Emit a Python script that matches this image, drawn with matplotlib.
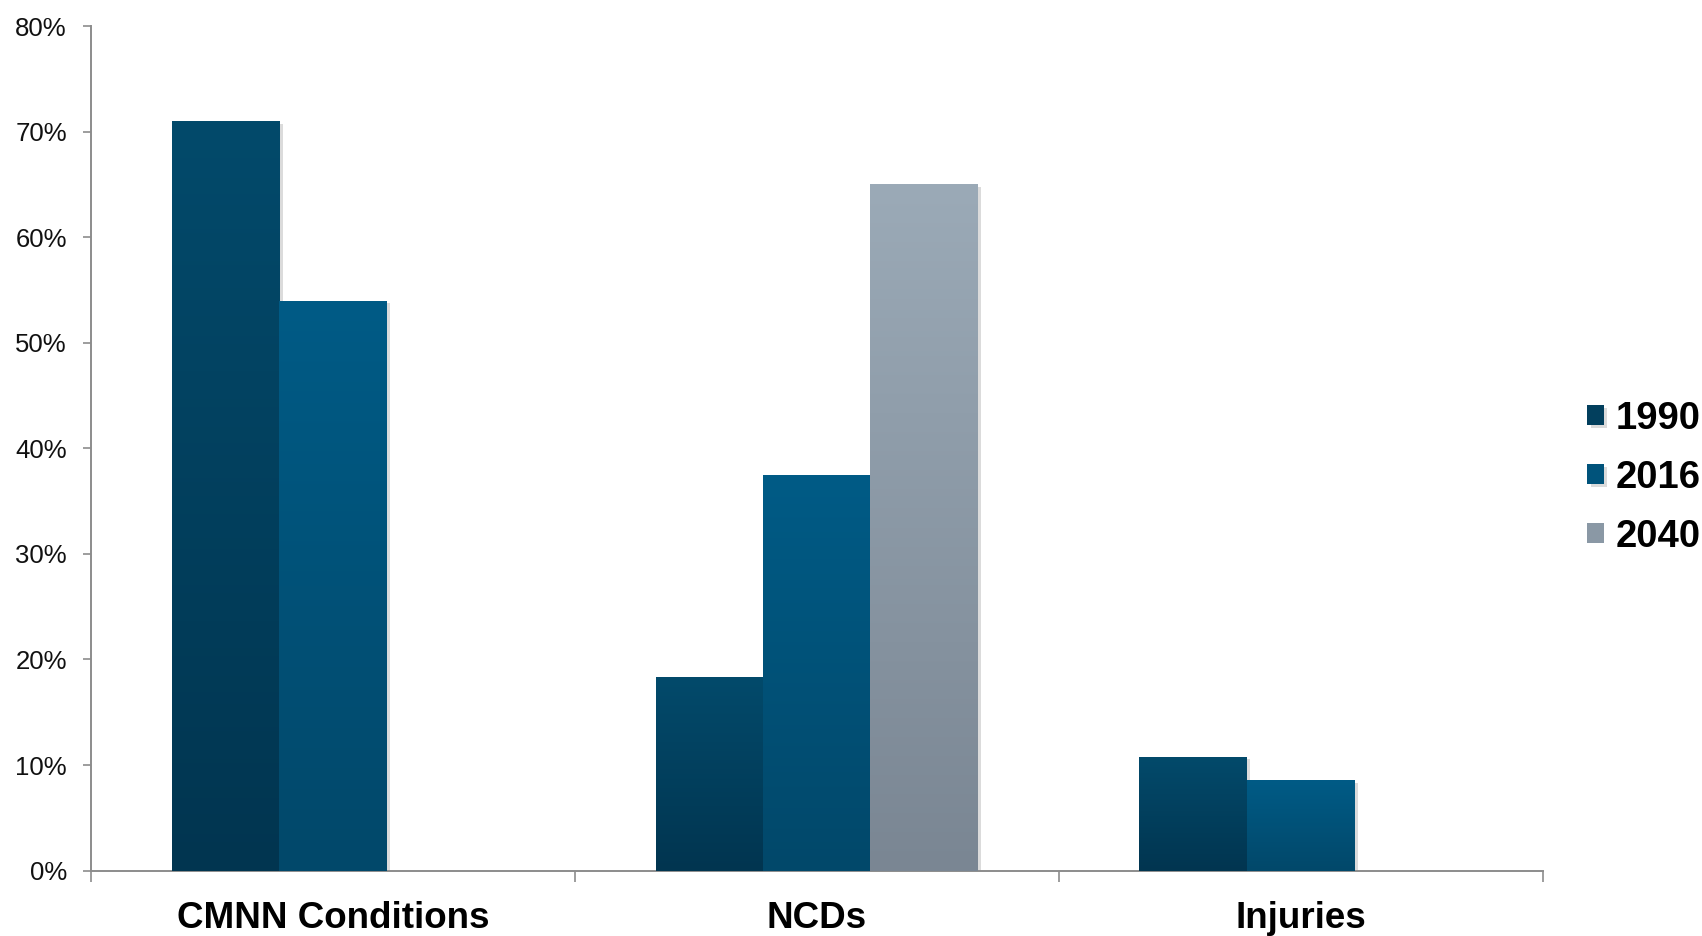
import numpy as np
import matplotlib
matplotlib.use("Agg")
import matplotlib.pyplot as plt
from matplotlib.colors import LinearSegmentedColormap
from matplotlib.ticker import FuncFormatter, FixedLocator
import matplotlib.patheffects as pe

plt.rcParams['font.family'] = ['Liberation Sans', 'DejaVu Sans']

# Share of disease burden by cause group
categories = ["CMNN Conditions", "NCDs", "Injuries"]
years = ["1990", "2016", "2040"]
share_1990 = [71.0, 18.3, 10.8]
share_2016 = [54.0, 37.5, 8.6]
share_2040 = [np.nan, 65.0, np.nan]
series = [share_1990, share_2016, share_2040]

# (bottom colour, top colour) of each series' vertical gradient
gradients = [("#013550", "#034a6b"),
             ("#02486a", "#005b86"),
             ("#7a8693", "#9baab7")]
legend_colors = ["#023f5d", "#00537b", "#8a98a5"]

fig = plt.figure(figsize=(17.02, 9.36), dpi=100)
ax = fig.add_axes([0.0535, 0.0699, 0.8528, 0.9023])

x = np.arange(len(categories))
bar_w = 0.222
axis_grey = "#8c8c8c"

for i, (vals, (c0, c1), lc) in enumerate(zip(series, gradients, legend_colors)):
    pos = x + (i - 1) * bar_w
    bars = ax.bar(pos, vals, width=bar_w, color=lc, label=years[i], zorder=2,
                  linewidth=0)
    cmap = LinearSegmentedColormap.from_list(f"g{i}", [c0, c1])
    grad = np.linspace(0, 1, 256).reshape(-1, 1)
    for b, v in zip(bars, vals):
        if np.isnan(v):
            continue
        b.set_path_effects([pe.SimplePatchShadow(offset=(2.5, -2), shadow_rgbFace="#9a9a9a",
                                                 alpha=0.35), pe.Normal()])
        x0, w, h = b.get_x(), b.get_width(), b.get_height()
        im = ax.imshow(grad, extent=[x0, x0 + w, 0, h], origin="lower",
                       cmap=cmap, aspect="auto", zorder=3, interpolation="bilinear")
        im.set_clip_path(b)

ax.set_xlim(-0.5, len(categories) - 0.5)
ax.set_ylim(0, 80)

for s in ["top", "right"]:
    ax.spines[s].set_visible(False)
for s in ["left", "bottom"]:
    ax.spines[s].set_color(axis_grey)
    ax.spines[s].set_linewidth(1.4)

ax.set_yticks(np.arange(0, 81, 10))
ax.yaxis.set_major_formatter(FuncFormatter(lambda v, p: f"{v:.0f}%"))
ax.tick_params(axis="y", direction="out", length=5.5, width=1.2, color=axis_grey,
               labelsize=18.5, pad=12, labelcolor="#111111")

ax.set_xticks(x)
ax.set_xticklabels(categories, fontsize=26.5, fontweight="bold")
ax.tick_params(axis="x", which="major", length=0, pad=22)
ax.xaxis.set_minor_locator(FixedLocator(np.arange(-0.5, len(categories), 1.0)))
ax.tick_params(axis="x", which="minor", direction="out", length=8, width=1.2,
               color=axis_grey)

leg = fig.legend(loc="center left", bbox_to_anchor=(0.9325, 0.4895), frameon=False,
                 prop={"size": 27.5, "weight": "bold"}, handlelength=0.44,
                 handleheight=0.44, handletextpad=0.3, labelspacing=0.6,
                 borderaxespad=0, borderpad=0)

fig.savefig("out.png", dpi=100, facecolor="white")
